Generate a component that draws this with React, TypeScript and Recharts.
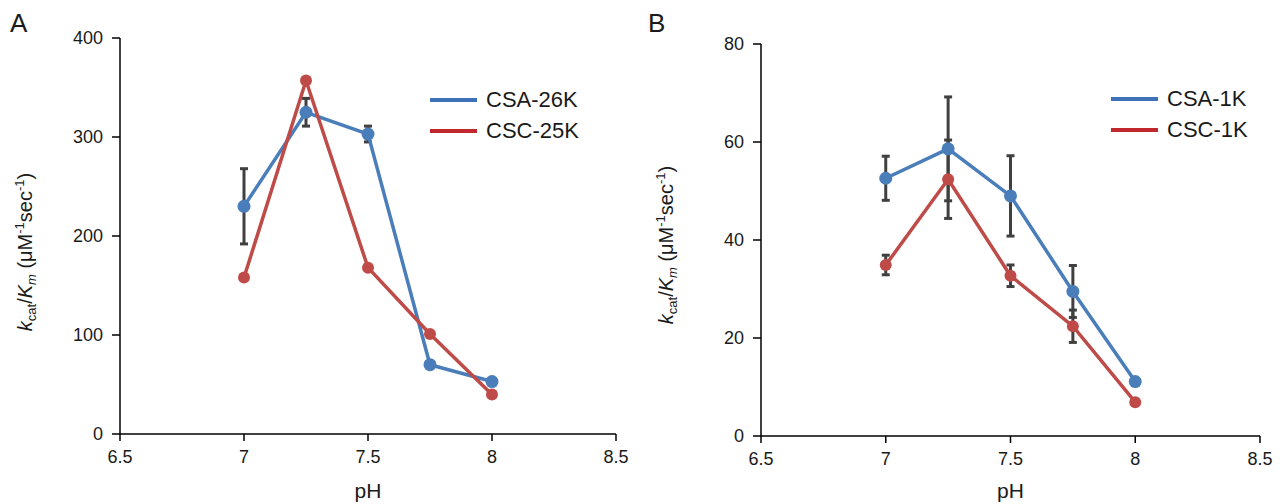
import React from "react";
import { ErrorBar, Legend, Line, LineChart, XAxis, YAxis } from "recharts";

// pH sweep, shared by both panels
const phValues = [7, 7.25, 7.5, 7.75, 8];
const phTicks = [6.5, 7, 7.5, 8, 8.5];

// panel A
const csa26k = [230, 325, 303, 70, 53];
const csa26kErr = [38, 14, 8, null, null];
const csc25k = [158, 357, 168, 101, 40];
const ticksA = [0, 100, 200, 300, 400];

// panel B
const csa1k = [52.6, 58.6, 49, 29.5, 11.1];
const csa1kErr = [4.5, 10.6, 8.2, 5.3, null];
const csc1k = [34.9, 52.4, 32.7, 22.4, 6.9];
const csc1kErr = [2, 8, 2.2, 3.3, null];
const ticksB = [0, 20, 40, 60, 80];

const BLUE = "#4a7ebb";
const RED = "#be4b48";
const legendColors: Record<string, string> = { blue: "#3e72b8", red: "#c0282d" };
const FONT = "'Liberation Sans', Arial, sans-serif";
const TEXT = "#1a1a1a";

type Row = { ph: number; a: number; aErr: number | null; b: number; bErr: number | null };

const dataA: Row[] = phValues.map((ph, i) => ({
  ph,
  a: csa26k[i],
  aErr: csa26kErr[i],
  b: csc25k[i],
  bErr: null
}));

const dataB: Row[] = phValues.map((ph, i) => ({
  ph,
  a: csa1k[i],
  aErr: csa1kErr[i],
  b: csc1k[i],
  bErr: csc1kErr[i]
}));

function YTitle({ viewBox, dx, dy }: any) {
  const cx = viewBox.x + dx;
  const cy = viewBox.y + viewBox.height / 2 + dy;
  return (
    <text
      x={cx}
      y={cy}
      transform={`rotate(-90, ${cx}, ${cy})`}
      textAnchor="middle"
      fill={TEXT}
      fontSize={20}
      fontFamily={FONT}
    >
      <tspan fontStyle="italic">k</tspan>
      <tspan fontSize={13} dy={4}>cat</tspan>
      <tspan dy={-4}>/</tspan>
      <tspan fontStyle="italic">K</tspan>
      <tspan fontSize={13} fontStyle="italic" dy={4}>m</tspan>
      <tspan dy={-4}> (μM</tspan>
      <tspan fontSize={13} dy={-8}>-1</tspan>
      <tspan dy={8}>sec</tspan>
      <tspan fontSize={13} dy={-8}>-1</tspan>
      <tspan dy={8}>)</tspan>
    </text>
  );
}

function makeLegend(left: number) {
  return (props: any) => (
    <div style={{ fontFamily: FONT, fontSize: 22, color: TEXT }}>
      {(props.payload ?? []).map((entry: any) => (
        <div key={entry.value} style={{ display: "flex", alignItems: "center", height: 31 }}>
          <svg width={47} height={6} style={{ marginRight: 9 }}>
            <line x1={0} y1={3} x2={47} y2={3} stroke={legendColors[entry.dataKey === "a" ? "blue" : "red"]} strokeWidth={4} />
          </svg>
          <span>{entry.value}</span>
        </div>
      ))}
    </div>
  );
}

function Panel({
  data,
  yTicks,
  names,
  width,
  top,
  right,
  xAxisHeight,
  legendPos,
  titleDy
}: {
  data: Row[];
  yTicks: number[];
  names: [string, string];
  width: number;
  top: number;
  right: number;
  xAxisHeight: number;
  legendPos: { left: number; top: number };
  titleDy: number;
}) {
  const hasBErr = data.some((d) => d.bErr != null);
  return (
    <LineChart width={width} height={504} data={data} margin={{ top, right, bottom: 0, left: 0 }}>
      <XAxis
        dataKey="ph"
        type="number"
        domain={[6.5, 8.5]}
        ticks={phTicks}
        height={xAxisHeight}
        stroke="#000"
        strokeWidth={1.5}
        tickSize={7}
        tickMargin={9}
        tick={{ fill: TEXT, fontSize: 18 }}
        label={{ value: "pH", position: "insideBottom", offset: 6, fill: TEXT, fontSize: 21 }}
      />
      <YAxis
        type="number"
        domain={[yTicks[0], yTicks[yTicks.length - 1]]}
        ticks={yTicks}
        width={120}
        stroke="#000"
        strokeWidth={1.5}
        tickSize={8}
        tickMargin={9}
        tick={{ fill: TEXT, fontSize: 18 }}
        label={{ content: (p: any) => <YTitle viewBox={p.viewBox} dx={32} dy={titleDy} /> }}
      />
      <Legend
        layout="vertical"
        align="center"
        verticalAlign="middle"
        content={makeLegend(legendPos.left)}
        wrapperStyle={{ left: legendPos.left, top: legendPos.top, width: "auto" }}
      />
      <Line
        dataKey="a"
        name={names[0]}
        stroke={BLUE}
        strokeWidth={3.5}
        dot={{ r: 6.5, fill: BLUE, stroke: BLUE, strokeWidth: 0 }}
        isAnimationActive={false}
      >
        <ErrorBar dataKey="aErr" stroke="#404040" strokeWidth={3} width={4} isAnimationActive={false} />
      </Line>
      <Line
        dataKey="b"
        name={names[1]}
        stroke={RED}
        strokeWidth={3.5}
        dot={{ r: 6, fill: RED, stroke: RED, strokeWidth: 0 }}
        isAnimationActive={false}
      >
        {hasBErr && <ErrorBar dataKey="bErr" stroke="#404040" strokeWidth={3} width={4} isAnimationActive={false} />}
      </Line>
    </LineChart>
  );
}

export default function App() {
  return (
    <div
      style={{
        position: "absolute",
        left: 0,
        top: 0,
        width: 1288,
        height: 504,
        background: "#fff",
        fontFamily: FONT,
        overflow: "hidden"
      }}
    >
      <div style={{ position: "absolute", left: 10, top: 8, fontSize: 26, color: TEXT }}>A</div>
      <div style={{ position: "absolute", left: 648, top: 8, fontSize: 26, color: TEXT }}>B</div>
      <div style={{ position: "absolute", left: 0, top: 0 }}>
        <Panel
          data={dataA}
          yTicks={ticksA}
          names={["CSA-26K", "CSC-25K"]}
          width={640}
          top={38}
          right={24}
          xAxisHeight={70}
          legendPos={{ left: 430, top: 84 }}
          titleDy={16}
        />
      </div>
      <div style={{ position: "absolute", left: 641, top: 0 }}>
        <Panel
          data={dataB}
          yTicks={ticksB}
          names={["CSA-1K", "CSC-1K"]}
          width={647}
          top={44}
          right={28}
          xAxisHeight={68}
          legendPos={{ left: 470, top: 83 }}
          titleDy={5}
        />
      </div>
    </div>
  );
}
